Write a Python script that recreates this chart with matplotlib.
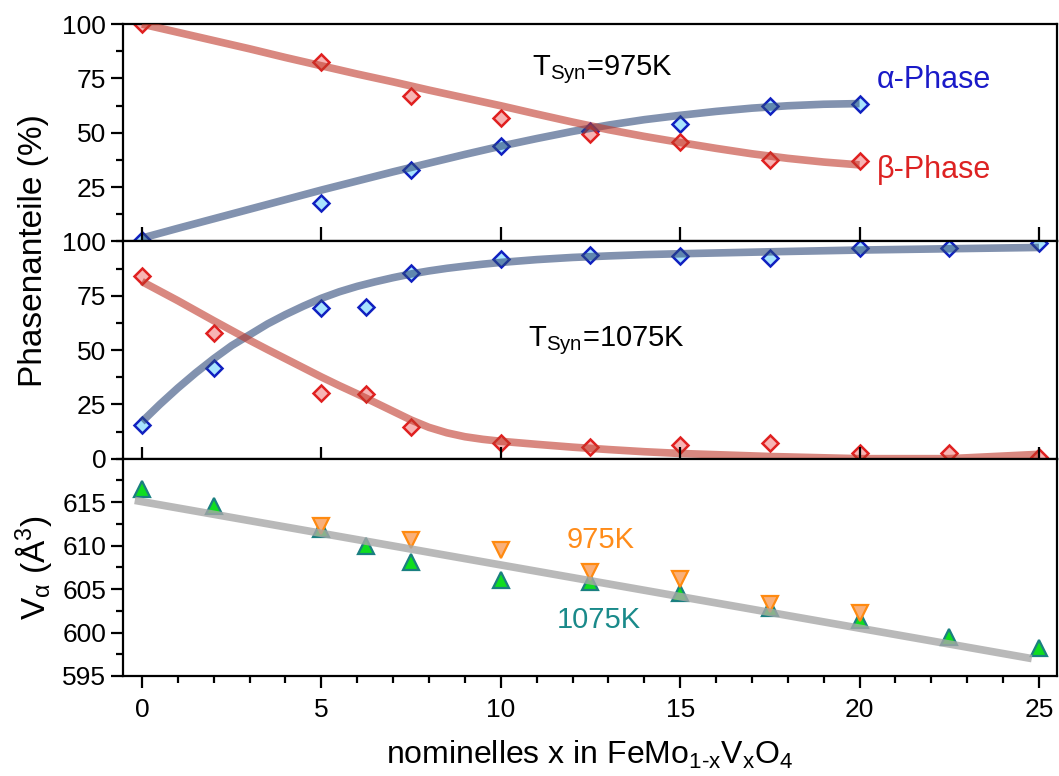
import matplotlib
matplotlib.use("Agg")
import matplotlib.pyplot as plt
from matplotlib.ticker import MultipleLocator

plt.rcParams["font.family"] = ["Liberation Sans", "DejaVu Sans"]
plt.rcParams["mathtext.fontset"] = "custom"
plt.rcParams["mathtext.rm"] = "Liberation Sans"
plt.rcParams["mathtext.it"] = "Liberation Sans:italic"

# --- T_Syn = 975 K: phase fractions (%) ---
x_975 = [0, 5, 7.5, 10, 12.5, 15, 17.5, 20]
alpha_975 = [0.5, 17.5, 33.0, 43.8, 51.0, 53.8, 62.5, 63.2]
beta_975 = [99.8, 82.4, 67.0, 56.6, 49.5, 45.6, 37.3, 36.9]

# fitted guide curves, 975 K
fit_x_975 = [0, 1, 2, 3, 4, 5, 6, 7, 8, 9, 10, 11, 12, 13, 14, 15, 16, 17, 18, 19, 20]
fit_alpha_975 = [1.5, 6.0, 10.4, 14.8, 19.2, 23.6, 27.8, 32.0, 36.0, 40.0, 43.8,
                 47.3, 50.6, 53.5, 56.0, 58.0, 59.8, 61.3, 62.4, 63.1, 63.4]
fit_beta_975 = [100.0, 96.2, 92.4, 88.6, 84.6, 80.8, 77.0, 73.4, 69.6, 66.0, 62.4,
                58.6, 54.9, 51.4, 48.3, 45.5, 42.8, 40.3, 38.2, 36.5, 35.2]

# --- T_Syn = 1075 K: phase fractions (%) ---
x_1075 = [0, 2, 5, 6.25, 7.5, 10, 12.5, 15, 17.5, 20, 22.5, 25]
alpha_1075 = [15.5, 41.5, 69.3, 70.0, 85.4, 91.8, 93.8, 93.3, 92.2, 97.1, 96.8, 99.2]
beta_1075 = [84.0, 57.9, 30.2, 29.6, 14.5, 7.4, 5.5, 6.1, 7.3, 2.4, 2.8, 0.8]

fit_x_1075 = [0, 0.5, 1, 1.5, 2, 2.5, 3, 3.5, 4, 4.5, 5, 5.5, 6, 6.5, 7, 7.5, 8,
              8.5, 9, 9.5, 10, 11, 12, 13, 14, 15, 17.5, 20, 22.5, 25]
fit_alpha_1075 = [17.0, 25.0, 32.5, 39.5, 46.0, 52.0, 57.0, 62.0, 66.3, 70.2, 73.8,
                  76.8, 79.3, 81.4, 83.3, 85.0, 86.4, 87.6, 88.6, 89.5, 90.3, 91.6,
                  92.6, 93.3, 93.9, 94.3, 95.2, 96.0, 96.6, 97.2]
fit_beta_1075 = [81.5, 77.1, 72.7, 68.1, 63.5, 59.0, 54.5, 50.2, 46.0, 41.8, 37.6,
                 33.6, 29.8, 25.8, 21.8, 17.8, 14.4, 11.9, 10.1, 8.9, 8.0, 6.6,
                 5.3, 4.2, 3.2, 2.4, 1.0, 0.0, 0.0, 2.0]

# --- cell volume of the alpha phase (A^3) ---
x_v975 = [5, 7.5, 10, 12.5, 15, 17.5, 20]
v_975 = [612.2, 610.7, 609.5, 607.0, 606.1, 603.3, 602.2]
x_v1075 = [0, 2, 5, 6.25, 7.5, 10, 12.5, 15, 17.5, 20, 22.5, 25]
v_1075 = [616.5, 614.5, 611.9, 610.0, 608.1, 606.0, 605.8, 604.5, 602.8, 601.4, 599.5, 598.2]
fit_x_v = [-0.2, 24.8]
fit_v = [615.2, 597.0]

fig = plt.figure(figsize=(10.59, 7.76), dpi=100)
gs = fig.add_gridspec(3, 1, left=0.1161, right=0.998, top=0.969, bottom=0.1289, hspace=0)
ax1 = fig.add_subplot(gs[0])
ax2 = fig.add_subplot(gs[1], sharex=ax1)
ax3 = fig.add_subplot(gs[2], sharex=ax1)

blue_edge, blue_face = "#1020c0", "#a8e4ff"
red_edge, red_face = "#e02020", "#f7b4b4"
blue_line, red_line = "#2f4a7a", "#c0392b"

def phase_panel(ax, x, a, b, fx, fa, fb):
    ax.plot(x, a, "D", ms=8.5, mfc=blue_face, mec=blue_edge, mew=1.8, zorder=2)
    ax.plot(x, b, "D", ms=8.5, mfc=red_face, mec=red_edge, mew=1.8, zorder=2)
    ax.plot(fx, fa, color=blue_line, lw=5.5, alpha=0.6, zorder=3,
            solid_capstyle="butt", solid_joinstyle="round")
    ax.plot(fx, fb, color=red_line, lw=5.5, alpha=0.6, zorder=3,
            solid_capstyle="butt", solid_joinstyle="round")
    ax.set_ylim(0, 100)
    ax.yaxis.set_major_locator(MultipleLocator(25))
    ax.yaxis.set_minor_locator(MultipleLocator(12.5))

phase_panel(ax1, x_975, alpha_975, beta_975, fit_x_975, fit_alpha_975, fit_beta_975)
phase_panel(ax2, x_1075, alpha_1075, beta_1075, fit_x_1075, fit_alpha_1075, fit_beta_1075)
ax1.set_yticks([25, 50, 75, 100])

ax3.plot(x_v1075, v_1075, "^", ms=11, mfc="#10dd20", mec="#1a7f80", mew=1.6, zorder=2)
ax3.plot(x_v975, v_975, "v", ms=11, mfc="#f9b07a", mec="#ff8a10", mew=1.6, zorder=2)
ax3.plot(fit_x_v, fit_v, color="#a8a8a8", lw=5.5, alpha=0.8, zorder=3, solid_capstyle="butt")
ax3.set_ylim(595, 620)
ax3.set_yticks([595, 600, 605, 610, 615])
ax3.yaxis.set_minor_locator(MultipleLocator(2.5))

ax3.set_xlim(-0.53, 25.5)
ax3.xaxis.set_major_locator(MultipleLocator(5))
ax3.xaxis.set_minor_locator(MultipleLocator(1))

for ax in (ax1, ax2, ax3):
    for s in ax.spines.values():
        s.set_linewidth(1.6)
    ax.tick_params(axis="both", which="major", direction="out", length=8.5, width=1.6,
                   labelsize=19, top=False, right=False)
    ax.tick_params(axis="both", which="minor", direction="out", length=5, width=1.6,
                   top=False, right=False)
for ax in (ax2, ax3):
    ax.tick_params(axis="x", which="major", top=True, length=8.5)
for ax in (ax1, ax2):
    ax.tick_params(axis="x", which="both", labelbottom=False)
    ax.tick_params(axis="x", which="major", length=10)
ax3.tick_params(axis="x", which="major", pad=7)

ax1.text(10.86, 78.8, r"T$_{\mathrm{Syn}}$=975K", fontsize=21, va="center", ha="left")
ax2.text(10.75, 54.3, r"T$_{\mathrm{Syn}}$=1075K", fontsize=21, va="center", ha="left")
ax1.text(20.47, 74.2, "α-Phase", fontsize=22, color="#1a1ac8", va="center", ha="left")
ax1.text(20.47, 32.7, "β-Phase", fontsize=22, color="#dd2222", va="center", ha="left")
ax3.text(11.83, 610.6, "975K", fontsize=21, color="#ff8c1a", va="center", ha="left")
ax3.text(11.55, 601.4, "1075K", fontsize=21, color="#1a8a8a", va="center", ha="left")

fig.text(0.032, 1 - 251 / 776, "Phasenanteile (%)", rotation=90, fontsize=24,
         va="center", ha="center")
fig.text(0.032, 1 - 568 / 776, r"V$_{\mathrm{\alpha}}$ (Å$^{3}$)", rotation=90, fontsize=24,
         va="center", ha="center")
fig.text(590 / 1059, 1 - 755 / 776,
         r"nominelles x in FeMo$_{\mathrm{1\text{-}x}}$V$_{\mathrm{x}}$O$_{4}$",
         fontsize=23, va="center", ha="center")

fig.savefig("out.png", dpi=100)
